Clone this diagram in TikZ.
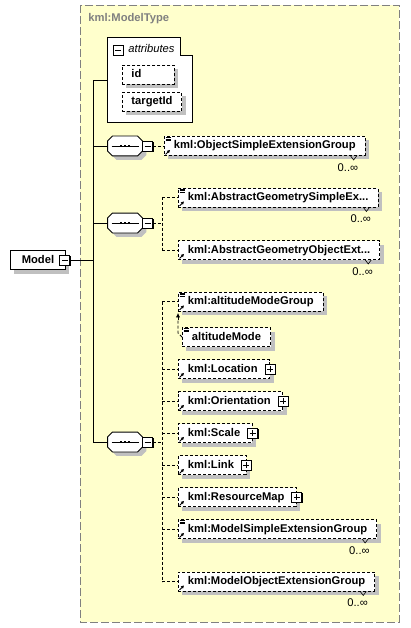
\documentclass[tikz,border=0pt]{standalone}
\usepackage{fontspec}
\setmainfont{Liberation Sans}
\usetikzlibrary{shadows,arrows.meta}
\definecolor{schemabg}{HTML}{FFFFCC}
\definecolor{shadowgray}{HTML}{C0C0C0}
\definecolor{framegray}{HTML}{808080}
\newcommand{\elfont}{\fontsize{11.2}{13}\selectfont\bfseries}
\newcommand{\occfont}{\fontsize{11.2}{13}\selectfont}
\tikzset{
    box-shadow/.style = {drop shadow={shadow xshift=4pt, shadow yshift=-4pt, fill=shadowgray, opacity=1}},
    dash-line/.style = {dash pattern=on 3pt off 2pt},
    elem-box/.style = {draw, dash-line, fill=white, anchor=west, minimum height=19pt, inner xsep=9.5pt, inner ysep=0pt, text height=8.5pt, text depth=2.5pt, font=\elfont, box-shadow},
    elem-plus/.style = {elem-box, execute at end node=\hspace{2.5pt}},
    root-box/.style = {draw, solid, fill=white, anchor=west, minimum height=19pt, minimum width=55pt, inner sep=0pt, text height=8.5pt, text depth=2.5pt, font=\elfont, box-shadow},
    toggle-box/.style = {draw, solid, fill=white, minimum size=10pt, inner sep=0pt, drop shadow={shadow xshift=1pt, shadow yshift=-1pt, fill=black, opacity=1}},
    minus-box/.style = {toggle-box, path picture={\draw ([xshift=2pt]path picture bounding box.west) -- ([xshift=-2pt]path picture bounding box.east);}},
    plus-box/.style = {toggle-box, path picture={\draw ([xshift=2pt]path picture bounding box.west) -- ([xshift=-2pt]path picture bounding box.east); \draw ([yshift=2pt]path picture bounding box.south) -- ([yshift=-2pt]path picture bounding box.north);}},
    seq-box/.style = {rectangle, minimum width=34pt, minimum height=19pt, inner sep=0pt},
    ref-arrow/.style = {solid, line width=0.8pt, -{Triangle[length=3pt,width=3pt]}},
}

\begin{document}
\begin{tikzpicture}[x=1pt, y=-1pt, line width=0.9pt]
\useasboundingbox (0,0) rectangle (410,628);
\draw[framegray, fill=schemabg, dash pattern=on 8pt off 3pt] (80,5) rectangle (399,622);
\node[anchor=west, inner sep=0pt, font=\elfont, text=framegray] (title) at (88,19) {kml:ModelType};

% attributes
\node[minimum width=84pt, minimum height=84pt, inner sep=0pt] (attrs) at (150.3,80.3) {};
\draw[fill=white] (attrs.north west) -- ([xshift=-12pt]attrs.north east) -- ([xshift=-12pt,yshift=-18pt]attrs.north east)
    -- ([yshift=-18pt]attrs.north east) -- (attrs.south east) -- (attrs.south west) -- cycle;
\node[minus-box] (attrsm) at (118,50) {};
\node[anchor=west, inner sep=0pt, font=\fontsize{11.2}{13}\selectfont\itshape] (attrst) at (128,48) {attributes};
\node[elem-box, inner xsep=9pt, text width=34pt, align=left] (id) at (122,75) {id};
\node[elem-box, inner xsep=9pt] (tid) at (122,102) {targetId};

% root
\node[root-box] (model) at (10,260) {Model};
\node[minus-box] (modelm) at ([xshift=-1pt]model.east) {};
\coordinate (trunk) at (93,260);

% sequences
\node[seq-box] (seqa) at (125,146) {};
\node[seq-box] (seqb) at (125,223) {};
\node[seq-box] (seqc) at (125,442) {};
\foreach \n in {seqa,seqb,seqc} {
    \draw[fill=white, box-shadow] ([xshift=5pt]\n.north west) -- ([xshift=-5pt]\n.north east) -- ([yshift=-5pt]\n.north east)
        -- ([yshift=5pt]\n.south east) -- ([xshift=-5pt]\n.south east) -- ([xshift=5pt]\n.south west)
        -- ([yshift=5pt]\n.south west) -- ([yshift=-5pt]\n.north west) -- cycle;
    \draw ([xshift=4pt]\n.west) -- ([xshift=-3pt]\n.east);
    \foreach \d in {-4,0,4}
        \fill ([shift={(\d*1pt-1.3pt,-1.3pt)}]\n.center) rectangle +(2.6pt,2.6pt);
}
\node[minus-box] (seqam) at (147.5,146) {};
\node[minus-box] (seqbm) at (147.5,223) {};
\node[minus-box] (seqcm) at (147.5,442) {};

% elements
\node[elem-box] (osg) at (164,146) {kml:ObjectSimpleExtensionGroup};
\node[elem-box] (ags) at (178,197.5) {kml:AbstractGeometrySimpleEx...};
\node[elem-box] (ago) at (178,250) {kml:AbstractGeometryObjectExt...};
\node[elem-box] (amg) at (178,301.5) {kml:altitudeModeGroup};
\node[elem-box] (am) at (182,337) {altitudeMode};
\node[elem-plus] (loc) at (178,369) {kml:Location};
\node[elem-plus] (ori) at (178,401) {kml:Orientation};
\node[elem-plus] (scl) at (178,433) {kml:Scale};
\node[elem-plus] (lnk) at (178,465) {kml:Link};
\node[elem-plus] (rmap) at (178,497) {kml:ResourceMap};
\node[elem-box] (msg) at (178,529) {kml:ModelSimpleExtensionGroup};
\node[elem-box] (mog) at (178,581.5) {kml:ModelObjectExtensionGroup};
\foreach \n in {loc,ori,scl,lnk,rmap}
    \node[plus-box] (\n p) at (\n.east) {};

% icons and occurrences
\foreach \n in {osg,ags,ago,amg,loc,ori,scl,lnk,rmap,msg,mog}
    \draw[ref-arrow] ([shift={(1.5pt,1.5pt)}]\n.south west) -- ++(4.5pt,4.5pt);
\foreach \n in {osg,ags,amg,am,msg}
    \foreach \d in {1.5,3,4.5}
        \draw[solid, line width=0.6pt] ([shift={(1.5pt,-\d*1pt)}]\n.north west) -- ++(5pt,0pt);
\foreach \n in {osg,ags,ago,msg,mog} {
    \draw[solid, line width=0.6pt] ([xshift=-15pt]\n.south east) -- ++(3pt,-4pt) -- ++(3pt,4pt);
    \node[anchor=north east, inner sep=0pt, font=\occfont] at ([xshift=-7pt,yshift=-7pt]\n.south east) {0..∞};
}

% connectors
\draw (modelm.east) -- (trunk);
\foreach \n in {attrs,seqa,seqb,seqc}
    \draw (\n.west) -| (trunk);
\draw[dash-line] (seqam.east) -- (osg.west);
\coordinate (busb) at ([xshift=9.5pt]seqbm.east);
\draw[dash-line] (seqbm.east) -- (busb);
\draw[dash-line] (ags.west -| busb) -- (ago.west -| busb);
\foreach \n in {ags,ago}
    \draw[dash-line] (\n.west -| busb) -- (\n.west);
\coordinate (busc) at ([xshift=9.5pt]seqcm.east);
\draw[dash-line] (seqcm.east) -- (busc);
\draw[dash-line] (amg.west -| busc) -- (mog.west -| busc);
\foreach \n in {amg,loc,ori,scl,lnk,rmap,msg,mog}
    \draw[dash-line] (\n.west -| busc) -- (\n.west);
\draw[dash-line] (am.west) -- ++(-4,-4) coordinate (amk) -- ([yshift=-9pt]amk |- amg.south) coordinate (amt);
\draw[solid, -{Latex[length=4.5pt,width=4.5pt]}] (amt) -- ([yshift=-1.5pt]amk |- amg.south);
\end{tikzpicture}
\end{document}
